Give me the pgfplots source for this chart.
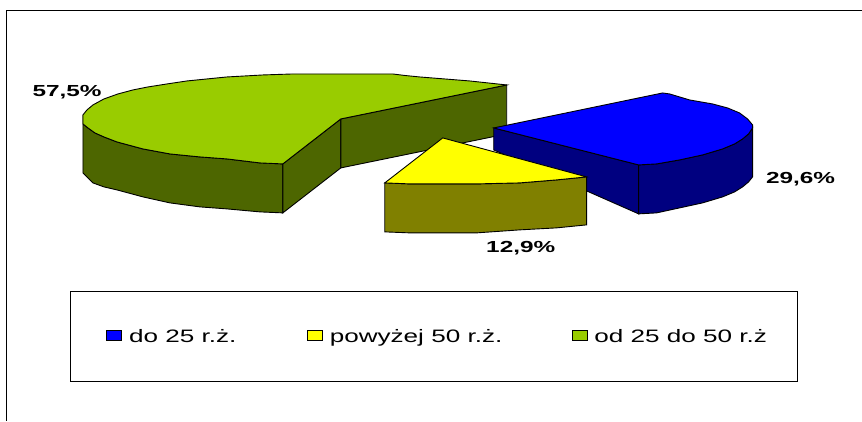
\documentclass[border=0pt]{standalone}
\usepackage{pgfplots}
\usepackage{fontspec}
\setmainfont{Liberation Sans}
\pgfplotsset{compat=1.18}
\definecolor{gtop}{HTML}{99CC00}
\definecolor{gside}{HTML}{4D6600}
\definecolor{btop}{HTML}{0000FF}
\definecolor{bside}{HTML}{000080}
\definecolor{ytop}{HTML}{FFFF00}
\definecolor{yside}{HTML}{808000}
\begin{document}
\begin{tikzpicture}
\begin{axis}[
  width=862pt,height=421pt,scale only axis,
  xmin=0,xmax=862,ymin=0,ymax=421,y dir=reverse,
  axis lines=none,clip=false,
  legend columns=3,
  legend cell align=left,
  legend style={at={(axis cs:70,291)},anchor=north west,draw=black,line width=0.8pt,
    inner xsep=36pt,inner ysep=36pt,font=\fontsize{18}{20}\selectfont,
    /tikz/every odd column/.style={column sep=5pt},
  },
]
\addlegendimage{legend image code/.code={\draw[draw=black,line width=0.8pt,fill=btop] (0pt,-4pt) rectangle (15pt,6pt);}}
\addlegendentry{\makebox[176pt][l]{\scalebox{1.45}[1]{do 25 r.ż.}}}
\addlegendimage{legend image code/.code={\draw[draw=black,line width=0.8pt,fill=ytop] (0pt,-4pt) rectangle (15pt,6pt);}}
\addlegendentry{\makebox[240pt][l]{\scalebox{1.45}[1]{powyżej 50 r.ż.}}}
\addlegendimage{legend image code/.code={\draw[draw=black,line width=0.8pt,fill=gtop] (0pt,-4pt) rectangle (15pt,6pt);}}
\addlegendentry{\makebox[165pt][l]{\scalebox{1.45}[1]{od 25 do 50 r.ż}}}
\path (axis cs:0,0) rectangle (axis cs:862,421);
% outer frame
\addplot[forget plot,black,line width=1pt] coordinates {(6.5,421)(6.5,10.5)(862,10.5)};
% green side
\addplot[forget plot,draw=black,line width=0.9pt,fill=gside] coordinates {
 (83,115)(83,173)(88,178)(93,183)(104,187)(117,190)(143,197)(170,203)(200,207)(227,209)(260,212)(283,213)(283,164)(260,163)(227,159)(200,157)(170,154)(143,149)(117,142)(104,137)(95,133)(88,128)(83,124)} -- cycle;
\addplot[forget plot,draw=black,line width=0.9pt,fill=gside] coordinates {(283,164)(283,213)(341,168)(341,119)} -- cycle;
\addplot[forget plot,draw=black,line width=0.9pt,fill=gside] coordinates {(341,119)(341,168)(507,134)(507,85)} -- cycle;
% green top
\addplot[forget plot,draw=black,line width=0.9pt,fill=gtop] coordinates {
 (83,115)(87,110)(93,105)(104,99)(118,94)(133,90)(148,87)(167,84)(187,81)(207,79)(227,77)(245,76)(263,75)(293,74)(393,74)(405,75.5)(420,77)(445,79)(470,81)(507,85)(341,119)(283,164)(260,163)(227,159)(200,157)(170,154)(143,149)(117,142)(104,137)(95,133)(88,128)(83,124)} -- cycle;
% blue side
\addplot[forget plot,draw=black,line width=0.9pt,fill=bside] coordinates {(494,128)(494,150)(639,214)(639,165)} -- cycle;
\addplot[forget plot,draw=black,line width=0.9pt,fill=bside] coordinates {
 (639,165)(639,214)(657,213)(680,208)(703,203)(723,197)(735,192)(743,187)(749,182)(753,177)(753,128)(749,134)(743,139)(735,144)(723,149)(703,155)(680,160)(657,164)} -- cycle;
% blue top
\addplot[forget plot,draw=black,line width=0.9pt,fill=btop] coordinates {
 (494,128)(663,93)(670,94)(680,97)(690,100)(713,104)(728,108)(740,113)(748,119)(753,125)(753,128)(749,134)(743,139)(735,144)(723,149)(703,155)(680,160)(657,164)(639,165)} -- cycle;
% yellow side
\addplot[forget plot,draw=black,line width=0.9pt,fill=yside] coordinates {
 (385,183)(385,232)(410,233)(437,233)(477,233)(520,230)(557,228)(587,225)(587,177)(557,180)(520,183)(477,184)(437,184)(410,184)} -- cycle;
% yellow top
\addplot[forget plot,draw=black,line width=0.9pt,fill=ytop] coordinates {
 (443,138)(587,177)(557,180)(520,183)(477,184)(437,184)(410,184)(385,183)} -- cycle;
% labels
\node[font=\bfseries\fontsize{16}{18}\selectfont] at (axis cs:67,92.5) {\scalebox{1.52}[1]{57,5\%}};
\node[font=\bfseries\fontsize{16}{18}\selectfont] at (axis cs:801,179.5) {\scalebox{1.52}[1]{29,6\%}};
\node[font=\bfseries\fontsize{16}{18}\selectfont] at (axis cs:521,248.5) {\scalebox{1.52}[1]{12,9\%}};
\end{axis}
\end{tikzpicture}
\end{document}
